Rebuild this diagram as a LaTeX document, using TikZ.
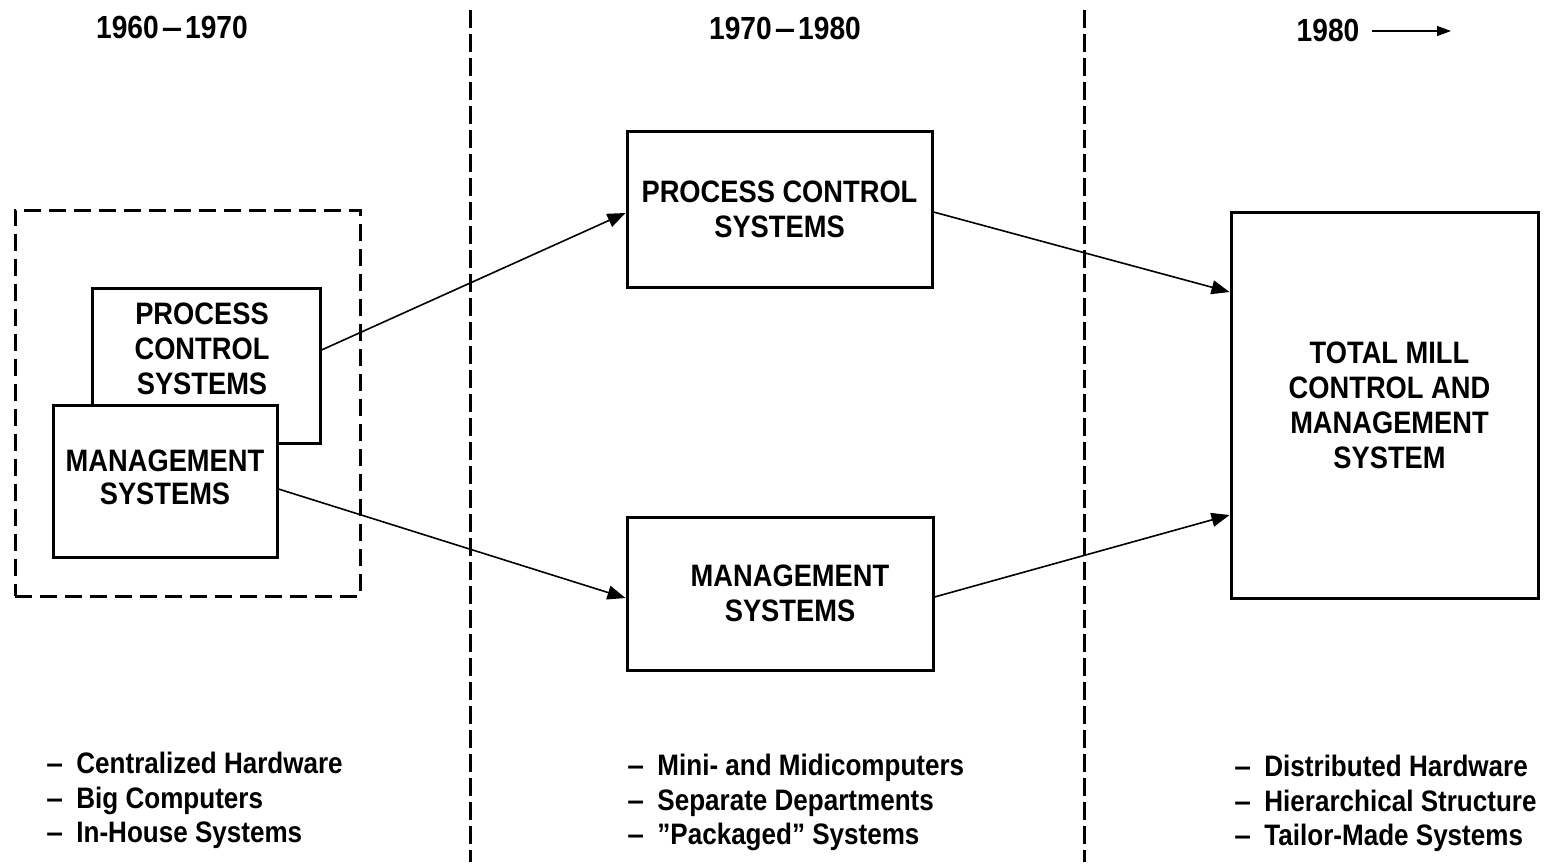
\documentclass[tikz,border=0pt]{standalone}
\usepackage{fontspec}
\setmainfont{Liberation Sans}[FakeStretch=0.88]
\usetikzlibrary{arrows.meta}
\newcommand{\ldash}{\makebox[15pt][l]{\scalebox{1.15}[1]{–}}}
\begin{document}
\begin{tikzpicture}[x=0.5pt,y=-0.5pt,
  boxtxt/.style={font=\fontsize{15.5pt}{17.5pt}\selectfont\bfseries, align=center},
  sysbox/.style={draw, line width=1.5pt, fill=white, inner sep=0pt, boxtxt},
  hdr/.style={font=\fontsize{16pt}{18pt}\selectfont\bfseries, inner sep=0pt},
  listtxt/.style={font=\fontsize{14.8pt}{17.25pt}\selectfont\bfseries, align=left, anchor=north west, inner sep=0pt},
  sep/.style={line width=1.5pt, dash pattern=on 9pt off 3pt},
  grpbox/.style={draw, line width=1.5pt, dash pattern=on 8.5pt off 4pt, inner sep=0pt},
  conn/.style={line width=0.8pt, -{Triangle[length=9pt,width=7pt]}},
  hdrarrow/.style={line width=0.6pt, -{Triangle[length=7pt,width=5pt]}}
]
\useasboundingbox (0,0) rectangle (1547,864);
% separators
\draw[sep] (470,10) -- (470,862);
\draw[sep] (1084,10) -- (1084,862);
% headers
\node[hdr] (h1) at (172,27) {1960\kern1.5pt\scalebox{1.3}[1]{–}\kern1.5pt1970};
\node[hdr] (h2) at (785,28) {1970\kern1.5pt\scalebox{1.3}[1]{–}\kern1.5pt1980};
\node[hdr] (h3) at (1328,30) {1980};
\coordinate (h3s) at (1372,31);
\coordinate (h3e) at (1451,31);
\draw[hdrarrow] (h3s) -- (h3e);
% left group
\node[grpbox, minimum width=172.5pt, minimum height=193pt] (grp) at (187.5,403) {};
\node[sysbox, minimum width=114pt, minimum height=77.5pt] (pcs0) at (206,365.5) {};
\node[boxtxt, inner sep=0pt] (pcs0t) at (202,349) {PROCESS\\CONTROL\\SYSTEMS};
\node[sysbox, minimum width=112pt, minimum height=76pt] (ms0) at (165,481) {\raisebox{-3pt}{\begin{tabular}{@{}c@{}}MANAGEMENT\\[-1pt]SYSTEMS\end{tabular}}};
% middle boxes
\node[sysbox, minimum width=152.5pt, minimum height=78pt] (pcsM) at (779.5,209) {PROCESS CONTROL\\SYSTEMS};
\node[sysbox, minimum width=153pt, minimum height=76.5pt] (msM) at (780,593.5) {\hspace*{10pt}MANAGEMENT\\\hspace*{10pt}SYSTEMS};
% right box
\node[sysbox, minimum width=153.5pt, minimum height=193pt] (tot) at (1384.5,405) {\hspace*{5pt}TOTAL MILL\\\hspace*{5pt}CONTROL AND\\\hspace*{5pt}MANAGEMENT\\\hspace*{5pt}SYSTEM};
% connectors
\draw[conn] ([yshift=7.75pt]pcs0.east) -- ([yshift=-2pt]pcsM.west);
\draw[conn] ([yshift=-4pt]ms0.east) -- ([yshift=-2.25pt]msM.west);
\draw[conn] ([yshift=-1.5pt]pcsM.east) -- ([yshift=56.5pt]tot.west);
\draw[conn] ([yshift=-1.75pt]msM.east) -- ([yshift=-55pt]tot.west);
% lists
\node[listtxt] (l1) at (46,752) {\ldash Centralized Hardware\\\ldash Big Computers\\\ldash In-House Systems};
\node[listtxt] (l2) at (627,754) {\ldash Mini- and Midicomputers\\\ldash Separate Departments\\\ldash ”Packaged” Systems};
\node[listtxt] (l3) at (1234,755) {\ldash Distributed Hardware\\\ldash Hierarchical Structure\\\ldash Tailor-Made Systems};
\end{tikzpicture}
\end{document}
